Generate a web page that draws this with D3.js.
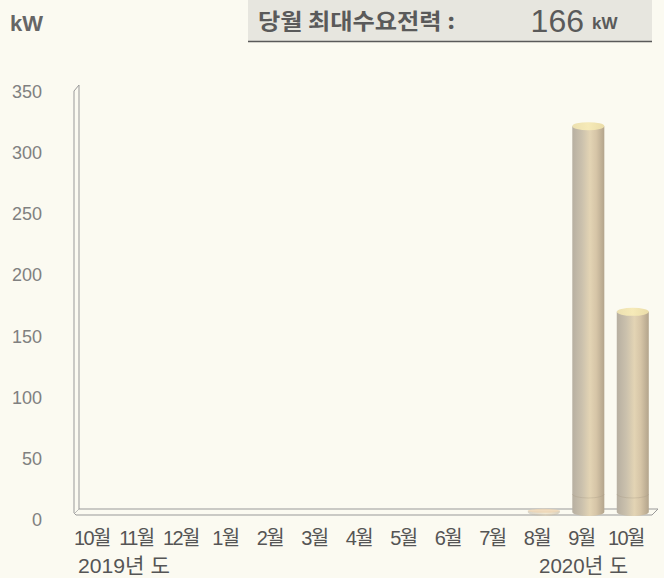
<!DOCTYPE html>
<html><head><meta charset="utf-8">
<script src="https://d3js.org/d3.v7.min.js"></script>
<style>
html,body{margin:0;padding:0;background:#fbfaf1;}
svg{display:block;}
</style></head>
<body>
<script>
const months = ["10월","11월","12월","1월","2월","3월","4월","5월","6월","7월","8월","9월","10월"];
const values = [0,0,0,0,0,0,0,0,0,0,1,320,166];
const yTicks = [0,50,100,150,200,250,300,350];
const years = ["2019년 도","2020년 도"];
const headerLabel = "당월 최대수요전력 :";
const headerValue = "166";
const unit = "kW";

const W = 664, H = 578;
const svg = d3.select("body").append("svg").attr("width", W).attr("height", H);
svg.append("rect").attr("width", W).attr("height", H).attr("fill", "#fbfaf1");

const defs = svg.append("defs");
const g1 = defs.append("linearGradient").attr("id","cyl").attr("x1","0").attr("x2","1").attr("y1","0").attr("y2","0");
[["0%","#b7afa1"],["30%","#cbc1ad"],["55%","#e3d4b4"],["75%","#d6c5a7"],["100%","#b3a48c"]]
  .forEach(([o,c])=>g1.append("stop").attr("offset",o).attr("stop-color",c));
const g2 = defs.append("linearGradient").attr("id","topg").attr("x1","0").attr("x2","1");
[["0%","#ece0b0"],["50%","#f6eab8"],["100%","#eadca8"]]
  .forEach(([o,c])=>g2.append("stop").attr("offset",o).attr("stop-color",c));

const x = d3.scaleBand().domain(d3.range(months.length)).range([72, 650]).paddingInner(0.28).paddingOuter(0.14);
const xLab = d3.scalePoint().domain(d3.range(months.length)).range([92, 626]);
const y = d3.scaleLinear().domain([0, 350]).range([512, 90]);
const yLab = d3.scaleLinear().domain([0, 350]).range([520, 92]);

// header
svg.append("text").attr("x", 10).attr("y", 31).text(unit)
  .attr("font-family","Liberation Sans, Arial, sans-serif").attr("font-weight","bold")
  .attr("font-size", 22).attr("fill","#666");
svg.append("rect").attr("x", 248).attr("y", 0).attr("width", 404).attr("height", 41).attr("fill","#e7e6df");
svg.append("line").attr("x1",248).attr("x2",652).attr("y1",41.5).attr("y2",41.5).attr("stroke","#5a5a5a").attr("stroke-width",1.3);
svg.append("text").attr("x", 258).attr("y", 29).text(headerLabel)
  .attr("font-family","Noto Sans CJK KR, sans-serif").attr("font-weight","bold")
  .attr("font-size", 22).attr("fill","#5a5a5a")
  .attr("textLength", 197).attr("lengthAdjust","spacingAndGlyphs");
svg.append("text").attr("x", 584).attr("y", 32).attr("text-anchor","end").text(headerValue)
  .attr("font-family","Liberation Sans, Arial, sans-serif")
  .attr("font-size", 32).attr("fill","#5a5a5a");
svg.append("text").attr("x", 592).attr("y", 29).text(unit)
  .attr("font-family","Liberation Sans, Arial, sans-serif").attr("font-weight","bold")
  .attr("font-size", 17).attr("fill","#5a5a5a");

// y tick labels
svg.append("g").selectAll("text").data(yTicks).join("text")
  .attr("x", 42).attr("y", d => yLab(d)).attr("text-anchor","end").attr("dominant-baseline","central")
  .attr("font-family","Liberation Sans, Arial, sans-serif").attr("font-size", 18).attr("fill","#808080")
  .text(d => d);

// 3D wall and floor
const wallTop = y(350) - 5;
const floorBack = 509, floorFront = 515;
const wl = 74, wr = 79;
const R = x.range()[1];
svg.append("path")
  .attr("d", `M${wl},${floorFront - 2} L${wl},${wallTop + 6} L${wr},${wallTop} L${wr},${floorBack} L${R + 8},${floorBack} L${R + 2},${floorFront} L${wl + 2},${floorFront} Z`)
  .attr("fill","#fbfaf1").attr("stroke","#999").attr("stroke-width",1);
svg.append("line").attr("x1", wl).attr("x2", wr).attr("y1", floorFront - 1).attr("y2", floorBack).attr("stroke","#aaa").attr("stroke-width",0.8);

// bars (cylinders)
const dx = 5;
const rx = x.bandwidth() / 2, ry = 4;
const bars = svg.append("g").selectAll("g").data(values.map((v,i)=>({v,i}))).join("g");
bars.filter(d => d.v > 0).append("path")
  .attr("d", d => {
    const cx = x(d.i) + dx + rx, yb = y(0), yt = y(d.v);
    return `M${cx - rx},${yt} L${cx - rx},${yb} A${rx},${ry} 0 0 0 ${cx + rx},${yb} L${cx + rx},${yt} Z`;
  })
  .attr("fill","url(#cyl)").attr("opacity", d => d.v < 5 ? 0.5 : 1);
bars.filter(d => d.v > 0).append("ellipse")
  .attr("cx", d => x(d.i) + dx + rx).attr("cy", d => y(d.v))
  .attr("rx", rx).attr("ry", d => d.v < 5 ? 2 : ry).attr("fill", d => d.v < 5 ? "#efd6b4" : "url(#topg)")
  .attr("opacity", d => d.v < 5 ? 0.8 : 1);
bars.filter(d => d.v > 20).append("path")
  .attr("d", d => {
    const cx = x(d.i) + dx + rx, yy = y(0) - 18;
    return `M${cx - rx},${yy} A${rx},${ry} 0 0 0 ${cx + rx},${yy}`;
  })
  .attr("fill","none").attr("stroke","#a89a84").attr("stroke-width",0.6).attr("opacity",0.6);

// x labels
svg.append("g").selectAll("text").data(months).join("text")
  .attr("x", (d,i) => xLab(i)).attr("y", 545).attr("text-anchor","middle")
  .attr("font-family","Liberation Sans, Noto Sans CJK KR, sans-serif").attr("font-size", 20).attr("fill","#555")
  .attr("letter-spacing", -1.6)
  .text(d => d);
svg.append("text").attr("x", 78).attr("y", 573).text(years[0])
  .attr("font-family","Liberation Sans, Noto Sans CJK KR, sans-serif").attr("font-size", 21).attr("fill","#555")
  .attr("textLength", 92).attr("lengthAdjust","spacingAndGlyphs");
svg.append("text").attr("x", 539).attr("y", 573).text(years[1])
  .attr("font-family","Liberation Sans, Noto Sans CJK KR, sans-serif").attr("font-size", 21).attr("fill","#555")
  .attr("textLength", 89).attr("lengthAdjust","spacingAndGlyphs");
</script>
</body></html>
